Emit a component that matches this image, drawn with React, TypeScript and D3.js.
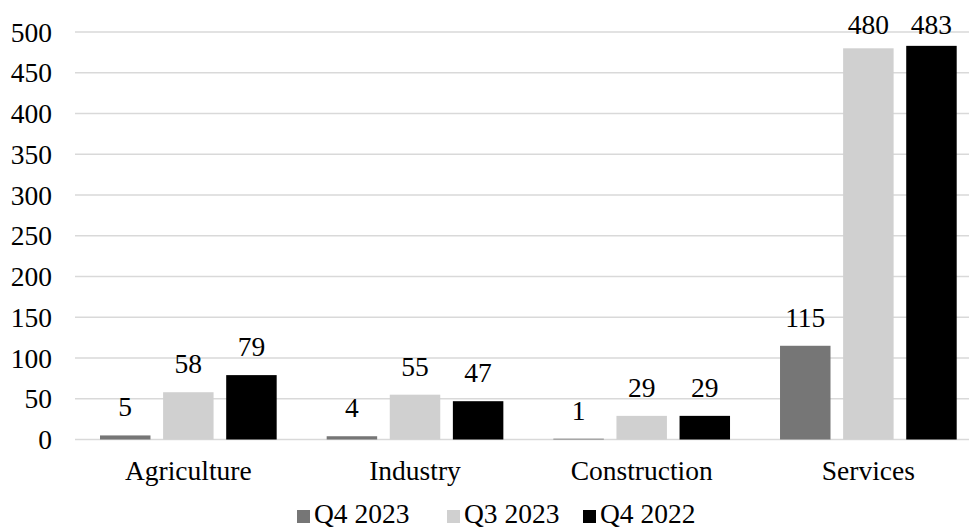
import React from "react";
import * as d3 from "d3";

const categories = ["Agriculture", "Industry", "Construction", "Services"];
const seriesNames = ["Q4 2023", "Q3 2023", "Q4 2022"];
const q4_2023 = [5, 4, 1, 115];
const q3_2023 = [58, 55, 29, 480];
const q4_2022 = [79, 47, 29, 483];
const yTicks = [0, 50, 100, 150, 200, 250, 300, 350, 400, 450, 500];
const colors = ["#767676", "#d0d0d0", "#000000"];

const W = 969;
const H = 529;
const FONT = "Liberation Serif";
const FS = 27.5;

export default function App() {
  const seriesValues = [q4_2023, q3_2023, q4_2022];
  const x = d3.scaleBand().domain(categories).range([75, 981.7]).paddingInner(0).paddingOuter(0);
  const inner = d3
    .scaleBand()
    .domain(seriesNames)
    .range([25, x.bandwidth() - 25])
    .paddingInner(0.2);
  const y = d3.scaleLinear().domain([0, 500]).range([439.5, 32]);

  const legendX = [297, 447, 583];

  const T = (props: any) => (
    <text fontFamily={FONT} fontSize={FS} fill="#000" style={{ fontFamily: FONT, fontSize: FS }} {...props} />
  );

  return (
    <svg width={W} height={H} style={{ position: "absolute", left: 0, top: 0 }}>
      <style>{`text { font-family: "Liberation Serif", serif !important; }`}</style>
      <rect x={0} y={0} width={W} height={H} fill="#fff" />
      {yTicks.map((t) => (
        <g key={t}>
          <line x1={75} x2={W} y1={y(t)} y2={y(t)} stroke="#d9d9d9" strokeWidth={1.5} />
          <T x={52} y={y(t) + 9.5} textAnchor="end">
            {t}
          </T>
        </g>
      ))}
      {categories.map((c, ci) => (
        <g key={c}>
          {seriesNames.map((s, si) => {
            const v = seriesValues[si][ci];
            const bx = (x(c) as number) + (inner(s) as number);
            const bw = inner.bandwidth();
            const top = y(v);
            const ly = Math.max(top - 19, 34);
            return (
              <g key={s}>
                <rect x={bx} y={top} width={bw} height={y(0) - top} fill={colors[si]} />
                <T x={bx + bw / 2} y={ly} textAnchor="middle">
                  {v}
                </T>
              </g>
            );
          })}
          <T x={(x(c) as number) + x.bandwidth() / 2} y={480} textAnchor="middle">
            {c}
          </T>
        </g>
      ))}
      {seriesNames.map((s, si) => (
        <g key={s}>
          <rect x={legendX[si]} y={510} width={13} height={13} fill={colors[si]} />
          <T x={legendX[si] + 17} y={523}>
            {s}
          </T>
        </g>
      ))}
    </svg>
  );
}
